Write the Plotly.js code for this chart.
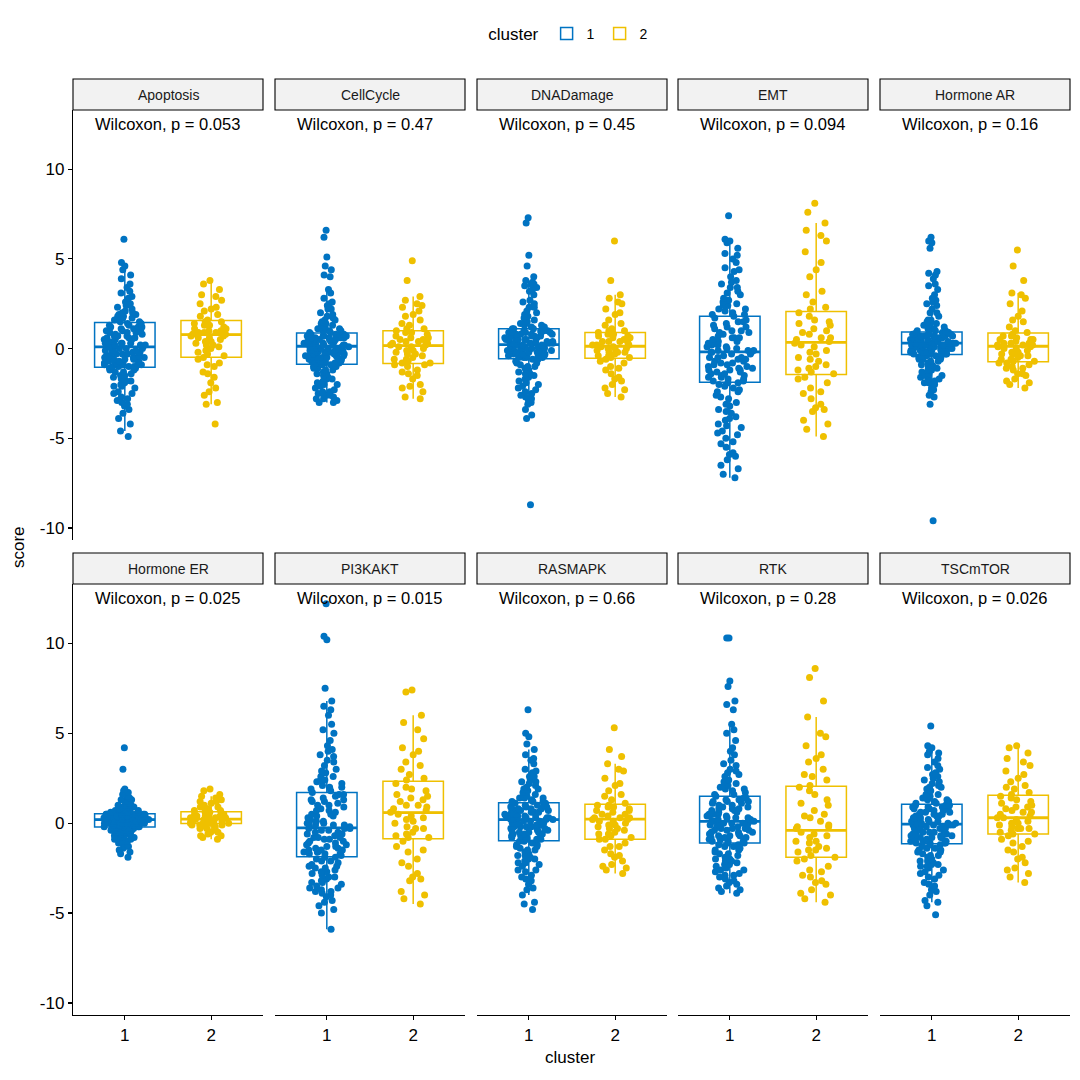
<!DOCTYPE html>
<html><head><meta charset="utf-8">
<script src="https://cdn.plot.ly/plotly-3.0.1.min.js"></script>
<style>html,body{margin:0;padding:0;background:#fff}#chart{width:1080px;height:1080px}</style>
</head><body><div id="chart"></div>
<script>
// ---------------- data ----------------
const pathways = ['Apoptosis','CellCycle','DNADamage','EMT','Hormone AR','Hormone ER','PI3KAKT','RASMAPK','RTK','TSCmTOR'];
const pLabels = ['Wilcoxon, p = 0.053','Wilcoxon, p = 0.47','Wilcoxon, p = 0.45','Wilcoxon, p = 0.094','Wilcoxon, p = 0.16',
                 'Wilcoxon, p = 0.025','Wilcoxon, p = 0.015','Wilcoxon, p = 0.66','Wilcoxon, p = 0.28','Wilcoxon, p = 0.026'];
const clusters = ['1','2'];
const yTicks = [-10,-5,0,5,10];

// box statistics (cluster 1 / cluster 2)
const c1Q1  = [-1.04,-0.87,-0.56,-1.87,-0.33,-0.22,-1.87,-0.98,-1.1,-1.15];
const c1Med = [0.1,0.13,0.22,-0.18,0.31,0.2,-0.26,0.2,0.1,-0.05];
const c1Q3  = [1.46,0.87,1.1,1.8,0.93,0.52,1.7,1.13,1.5,1.05];
const c1Lo  = [-4.6,-3.0,-3.0,-7.2,-2.2,-1.3,-5.9,-4.0,-3.9,-4.4];
const c1Hi  = [4.7,3.3,3.6,6.0,2.8,1.6,6.8,4.1,5.5,4.3];
const c2Q1  = [-0.48,-0.83,-0.54,-1.44,-0.74,-0.02,-0.87,-0.9,-1.9,-0.6];
const c2Med = [0.78,0.17,0.13,0.35,0.13,0.22,0.59,0.22,-0.4,0.3];
const c2Q3  = [1.57,1.0,0.9,2.07,0.87,0.63,2.33,1.05,2.05,1.55];
const c2Lo  = [-3.1,-2.8,-2.7,-4.9,-2.2,-0.9,-4.5,-2.8,-4.4,-3.3];
const c2Hi  = [3.8,2.9,3.0,7.0,3.1,1.5,6.0,3.3,5.9,4.3];

// sample scores (estimated from the jittered points)
const apoptosis1 = [6.1,4.8,4.6,4.4,4.1,3.9,3.6,3.4,3.1,2.9,2.8,2.6,2.5,2.3,2.2,2.1,2.0,1.9,1.8,1.8,1.7,1.6,1.6,1.5,1.5,
 1.4,1.4,1.3,1.2,1.2,1.1,1.0,1.0,0.9,0.9,0.8,0.7,0.7,0.6,0.6,0.5,0.5,0.4,0.4,0.3,0.3,0.2,0.2,0.1,0.1,
 0.0,0.0,-0.1,-0.1,-0.2,-0.2,-0.3,-0.3,-0.4,-0.4,-0.5,-0.5,-0.6,-0.6,-0.7,-0.7,-0.8,-0.8,-0.8,-0.9,-0.9,-0.9,-1.0,-1.0,-1.0,
 -1.1,-1.2,-1.3,-1.4,-1.5,-1.6,-1.7,-1.8,-1.9,-2.0,-2.1,-2.2,-2.4,-2.5,-2.7,-2.8,-3.0,-3.1,-3.2,-3.4,-3.6,-3.9,-4.2,-4.6,-4.9,
 2.4,2.0,1.7,1.3,1.1,0.9,0.8,0.6,0.5,0.4,0.3,0.2,0.1,0.0,-0.1,-0.2,-0.3,-0.4,-0.5,-0.6,-0.7,-0.8,-0.9,-1.0,-1.1,-1.3,-1.5,-1.8,-2.1,-2.5,
 1.0,0.7,0.3,-0.2,-0.6,1.2,1.9,-1.2,-2.9,3.2];
const apoptosis2 = [3.8,3.6,3.3,3.0,2.7,2.5,2.3,2.1,1.9,1.8,1.6,1.5,1.4,1.3,1.2,1.1,1.0,1.0,0.9,0.9,0.8,0.8,
 0.7,0.6,0.5,0.4,0.3,0.2,0.1,0.0,-0.2,-0.3,-0.4,-0.6,-0.8,-1.0,-1.3,-1.6,-1.9,-2.2,-2.6,-3.0,-3.1,-4.2,
 2.9,2.2,1.5,1.3,1.1,0.9,0.7,0.6,0.4,0.2,-0.1,-0.5,-0.9,-1.4,-2.4];
const cellcycle1 = [6.6,6.2,5.1,4.6,4.4,4.1,4.0,3.3,3.1,2.8,2.6,2.4,2.2,2.0,1.8,1.7,1.6,1.5,1.4,1.3,1.2,1.1,1.0,1.0,0.9,
 0.8,0.8,0.8,0.7,0.7,0.7,0.6,0.6,0.6,0.5,0.5,0.5,0.4,0.4,0.4,0.3,0.3,0.3,0.3,0.2,0.2,0.2,0.2,0.1,0.1,
 0.1,0.0,0.0,0.0,-0.1,-0.1,-0.2,-0.2,-0.2,-0.3,-0.3,-0.3,-0.4,-0.4,-0.5,-0.5,-0.5,-0.6,-0.6,-0.7,-0.7,-0.7,-0.8,-0.8,-0.8,
 -0.9,-1.0,-1.0,-1.1,-1.2,-1.3,-1.4,-1.5,-1.6,-1.7,-1.8,-1.9,-2.0,-2.1,-2.2,-2.3,-2.4,-2.5,-2.5,-2.6,-2.7,-2.8,-2.9,-3.0,-3.0,
 2.2,1.9,1.6,1.2,1.0,0.9,0.8,0.7,0.6,0.5,0.4,0.3,0.2,0.1,0.0,-0.1,-0.2,-0.3,-0.4,-0.5,-0.6,-0.7,-0.8,-0.9,-1.0,-1.2,-1.4,-1.7,-2.0,-2.6,
 0.6,0.3,-0.1,-0.5,1.1,-1.1,2.5,-2.8,-2.4,1.4];
const cellcycle2 = [4.9,3.8,2.9,2.7,2.5,2.3,2.1,1.8,1.6,1.3,1.1,1.0,0.9,0.8,0.7,0.6,0.5,0.5,0.4,0.3,0.2,0.2,
 0.1,0.0,-0.1,-0.2,-0.3,-0.4,-0.5,-0.6,-0.7,-0.8,-0.8,-0.9,-1.0,-1.2,-1.3,-1.5,-1.7,-2.0,-2.2,-2.4,-2.7,-2.8,
 2.4,1.9,1.4,1.1,0.9,0.6,0.4,0.3,0.1,-0.1,-0.3,-0.6,-0.9,-1.4,-2.1];
const dnadamage1 = [7.3,7.0,5.2,4.6,4.0,3.8,3.7,3.6,3.5,3.4,3.3,3.0,2.7,2.5,2.3,2.1,1.9,1.8,1.7,1.5,1.4,1.3,1.2,1.2,1.1,
 1.1,1.0,1.0,1.0,0.9,0.9,0.9,0.8,0.8,0.8,0.7,0.7,0.7,0.6,0.6,0.6,0.5,0.5,0.5,0.4,0.4,0.4,0.3,0.3,0.3,
 0.2,0.2,0.2,0.1,0.1,0.1,0.0,0.0,0.0,-0.1,-0.1,-0.1,-0.2,-0.2,-0.2,-0.3,-0.3,-0.3,-0.4,-0.4,-0.4,-0.5,-0.5,-0.5,-0.5,
 -0.6,-0.7,-0.8,-0.9,-1.0,-1.1,-1.3,-1.4,-1.5,-1.7,-1.8,-1.9,-2.0,-2.2,-2.3,-2.5,-2.6,-2.8,-2.9,-3.0,-3.1,-3.4,-3.7,-3.9,-8.7,
 3.2,2.6,2.0,1.6,1.3,1.1,1.0,0.9,0.8,0.7,0.6,0.5,0.4,0.3,0.2,0.1,0.0,-0.1,-0.2,-0.3,-0.4,-0.5,-0.6,-0.8,-1.0,-1.2,-1.6,-2.1,-2.7,
 0.5,0.3,0.0,-0.3,0.9,1.4,2.3,-1.4,-2.4,3.6,0.7];
const dnadamage2 = [6.0,3.8,3.0,2.8,2.5,2.2,1.9,1.6,1.3,1.1,1.0,0.9,0.8,0.7,0.7,0.6,0.5,0.4,0.4,0.3,0.2,0.2,
 0.1,0.1,0.0,0.0,-0.1,-0.2,-0.2,-0.3,-0.4,-0.5,-0.5,-0.6,-0.8,-1.0,-1.2,-1.4,-1.6,-1.8,-2.0,-2.3,-2.5,-2.7,
 2.6,2.0,1.4,1.0,0.8,0.6,0.4,0.2,0.0,-0.2,-0.4,-0.7,-1.1,-1.7,-2.2];
const emt1 = [7.4,6.1,6.0,5.9,5.6,5.3,5.0,4.8,4.5,4.3,4.0,3.8,3.6,3.4,3.2,3.0,2.8,2.7,2.5,2.4,2.2,2.1,2.0,1.9,1.8,
 1.7,1.6,1.5,1.4,1.3,1.2,1.1,1.0,0.9,0.8,0.7,0.6,0.6,0.5,0.4,0.3,0.2,0.2,0.1,0.0,0.0,-0.1,-0.1,-0.2,-0.2,
 -0.2,-0.3,-0.4,-0.5,-0.5,-0.6,-0.7,-0.8,-0.8,-0.9,-1.0,-1.0,-1.1,-1.2,-1.2,-1.3,-1.4,-1.4,-1.5,-1.6,-1.6,-1.7,-1.8,-1.8,-1.9,
 -2.0,-2.2,-2.4,-2.6,-2.8,-3.0,-3.2,-3.4,-3.6,-3.8,-4.0,-4.2,-4.4,-4.6,-4.8,-5.0,-5.3,-5.5,-5.8,-6.0,-6.2,-6.5,-6.7,-7.0,-7.2,
 5.2,4.4,3.7,3.1,2.6,2.2,1.9,1.5,1.2,0.9,0.6,0.3,0.1,-0.1,-0.3,-0.5,-0.7,-0.9,-1.1,-1.3,-1.5,-1.7,-1.9,-2.1,-2.4,-2.7,-3.1,-3.5,-3.9,-4.3,
 -4.7,-5.2,-5.9,0.4,-0.6,1.0,-1.2,2.4,-2.3,3.4];
const emt2 = [8.1,7.6,7.0,6.6,6.0,5.4,4.8,4.0,3.2,2.6,2.2,2.0,1.8,1.6,1.4,1.3,1.1,0.9,0.8,0.6,0.5,0.4,
 0.3,0.1,-0.1,-0.3,-0.5,-0.7,-0.9,-1.0,-1.2,-1.3,-1.4,-1.6,-1.9,-2.2,-2.5,-2.8,-3.1,-3.4,-3.5,-4.0,-4.5,-4.9,
 6.3,4.4,3.0,2.3,1.5,1.0,0.6,0.2,-0.2,-0.6,-1.1,-1.7,-2.4,-3.3,-4.2];
const hormoneAR1 = [6.2,6.0,5.9,5.6,4.3,4.2,4.1,3.9,3.5,3.3,3.0,2.8,2.6,2.4,2.2,2.0,1.8,1.6,1.5,1.4,1.3,1.2,1.1,1.0,1.0,
 0.9,0.9,0.9,0.8,0.8,0.8,0.7,0.7,0.7,0.7,0.6,0.6,0.6,0.6,0.5,0.5,0.5,0.5,0.4,0.4,0.4,0.4,0.3,0.3,0.3,
 0.3,0.2,0.2,0.2,0.2,0.1,0.1,0.1,0.1,0.0,0.0,0.0,-0.1,-0.1,-0.1,-0.1,-0.2,-0.2,-0.2,-0.2,-0.3,-0.3,-0.3,-0.3,-0.3,
 -0.4,-0.4,-0.5,-0.6,-0.6,-0.7,-0.8,-0.9,-1.0,-1.1,-1.2,-1.3,-1.4,-1.5,-1.6,-1.7,-1.8,-1.9,-2.0,-2.2,-2.4,-2.6,-2.7,-3.1,-9.6,
 3.6,2.5,2.0,1.6,1.3,1.1,0.9,0.8,0.7,0.6,0.5,0.4,0.3,0.2,0.1,0.0,-0.1,-0.2,-0.3,-0.4,-0.5,-0.7,-0.9,-1.2,-1.5,-1.9,
 0.5,0.3,0.1,0.8,0.6,0.2,-0.1,1.0,1.4,-0.6,-1.0,-2.3,2.7,-1.7];
const hormoneAR2 = [5.5,4.6,3.8,3.1,3.0,2.5,2.1,1.8,1.5,1.2,0.9,0.8,0.7,0.6,0.5,0.5,0.4,0.3,0.3,0.2,0.2,0.1,
 0.1,0.0,-0.1,-0.2,-0.3,-0.3,-0.4,-0.5,-0.6,-0.7,-0.7,-0.8,-0.9,-1.0,-1.1,-1.2,-1.4,-1.5,-1.7,-1.9,-2.0,-2.2,
 2.8,1.6,1.0,0.7,0.5,0.3,0.2,0.0,-0.2,-0.4,-0.6,-0.8,-1.1,-1.4,-1.8];
const hormoneER1 = [4.2,3.0,1.9,1.7,1.6,1.5,1.4,1.3,1.2,1.1,1.1,1.0,1.0,0.9,0.9,0.8,0.8,0.8,0.7,0.7,0.7,0.6,0.6,0.6,0.5,
 0.5,0.5,0.5,0.5,0.4,0.4,0.4,0.4,0.4,0.4,0.3,0.3,0.3,0.3,0.3,0.3,0.3,0.2,0.2,0.2,0.2,0.2,0.2,0.2,0.2,
 0.2,0.1,0.1,0.1,0.1,0.1,0.1,0.0,0.0,0.0,0.0,0.0,-0.1,-0.1,-0.1,-0.1,-0.1,-0.1,-0.2,-0.2,-0.2,-0.2,-0.2,-0.2,-0.2,
 -0.3,-0.3,-0.3,-0.4,-0.4,-0.4,-0.5,-0.5,-0.5,-0.6,-0.6,-0.7,-0.7,-0.8,-0.8,-0.9,-0.9,-1.0,-1.1,-1.2,-1.3,-1.4,-1.5,-1.6,-1.9,
 1.8,1.3,1.0,0.8,0.7,0.6,0.5,0.5,0.4,0.4,0.3,0.3,0.2,0.2,0.1,0.1,0.0,0.0,-0.1,-0.1,-0.2,-0.3,-0.4,-0.5,-0.6,-0.8,-1.0,-1.3,-1.7,
 0.6,0.4,0.2,0.0,-0.2,0.9,1.2,-0.7,1.5,-1.1,0.3];
const hormoneER2 = [1.9,1.8,1.5,1.3,1.2,1.1,1.0,0.9,0.8,0.7,0.7,0.6,0.6,0.5,0.5,0.4,0.4,0.4,0.3,0.3,0.3,0.2,
 0.2,0.2,0.2,0.1,0.1,0.1,0.1,0.0,0.0,0.0,0.0,-0.1,-0.1,-0.2,-0.2,-0.3,-0.4,-0.5,-0.6,-0.7,-0.8,-0.9,
 1.6,1.2,0.9,0.7,0.5,0.4,0.3,0.2,0.1,0.0,-0.1,-0.3,-0.5,-0.7,1.4];
const pi3kakt1 = [12.2,10.4,10.2,7.5,6.8,6.5,6.0,5.5,5.0,4.6,4.3,4.0,3.7,3.4,3.2,3.0,2.8,2.6,2.4,2.3,2.2,2.1,2.0,1.9,1.8,
 1.7,1.6,1.5,1.4,1.3,1.2,1.1,1.0,0.9,0.8,0.7,0.6,0.5,0.4,0.3,0.2,0.1,0.1,0.0,0.0,-0.1,-0.1,-0.2,-0.2,-0.3,
 -0.3,-0.4,-0.5,-0.5,-0.6,-0.7,-0.8,-0.8,-0.9,-1.0,-1.0,-1.1,-1.2,-1.2,-1.3,-1.4,-1.4,-1.5,-1.5,-1.6,-1.6,-1.7,-1.7,-1.8,-1.9,
 -2.0,-2.1,-2.2,-2.3,-2.4,-2.5,-2.6,-2.7,-2.8,-2.9,-3.0,-3.1,-3.2,-3.3,-3.4,-3.5,-3.6,-3.7,-3.8,-3.9,-4.1,-4.3,-4.6,-5.0,-5.9,
 6.3,5.2,4.1,3.5,2.9,2.4,2.0,1.6,1.3,1.0,0.7,0.4,0.1,-0.1,-0.4,-0.6,-0.9,-1.1,-1.3,-1.5,-1.7,-1.9,-2.1,-2.4,-2.7,-3.0,-3.3,-3.6,-4.0,-4.4,
 -4.8,0.5,-0.3,-0.8,1.2,-1.6,2.6,-2.5,3.8,-3.8];
const pi3kakt2 = [7.4,7.3,6.0,5.2,4.7,4.2,3.8,3.4,3.0,2.7,2.4,2.2,2.0,1.8,1.6,1.5,1.3,1.2,1.0,0.9,0.8,0.7,
 0.5,0.4,0.3,0.1,0.0,-0.2,-0.3,-0.5,-0.6,-0.7,-0.8,-1.0,-1.3,-1.6,-2.0,-2.4,-2.8,-3.0,-3.2,-4.0,-4.2,-4.5,
 5.6,4.0,3.2,2.5,1.9,1.4,1.0,0.6,0.2,-0.3,-0.8,-1.5,-2.2,-3.1,-3.8];
const rasmapk1 = [6.3,5.0,4.8,4.4,4.1,3.8,3.5,3.3,3.0,2.8,2.6,2.4,2.3,2.2,2.0,1.9,1.8,1.7,1.6,1.5,1.4,1.4,1.3,1.2,1.2,
 1.1,1.1,1.0,1.0,0.9,0.9,0.8,0.8,0.8,0.7,0.7,0.6,0.6,0.6,0.5,0.5,0.5,0.4,0.4,0.4,0.3,0.3,0.3,0.2,0.2,
 0.2,0.1,0.1,0.0,0.0,-0.1,-0.1,-0.2,-0.2,-0.3,-0.3,-0.4,-0.4,-0.5,-0.5,-0.6,-0.6,-0.7,-0.7,-0.8,-0.8,-0.9,-0.9,-0.9,-1.0,
 -1.1,-1.2,-1.3,-1.4,-1.5,-1.6,-1.7,-1.8,-1.9,-2.0,-2.1,-2.2,-2.3,-2.4,-2.6,-2.7,-2.9,-3.0,-3.2,-3.4,-3.6,-4.0,-4.4,-4.5,-4.8,
 3.6,2.9,2.3,1.9,1.5,1.2,1.0,0.9,0.7,0.6,0.5,0.4,0.3,0.2,0.1,0.0,-0.1,-0.2,-0.3,-0.4,-0.5,-0.6,-0.8,-1.0,-1.2,-1.5,-1.8,-2.2,-2.6,-3.1,
 -3.7,0.8,0.3,-0.2,-0.7,1.4,-1.3,2.1,-2.0,2.6];
const rasmapk2 = [5.3,4.1,3.7,3.3,2.9,2.5,2.1,1.8,1.6,1.3,1.1,1.0,0.9,0.9,0.8,0.7,0.6,0.5,0.4,0.3,0.3,0.2,
 0.2,0.1,0.0,-0.1,-0.2,-0.3,-0.4,-0.5,-0.6,-0.7,-0.8,-0.9,-1.1,-1.3,-1.5,-1.7,-1.9,-2.1,-2.3,-2.4,-2.6,-2.8,
 3.0,2.2,1.5,1.0,0.7,0.5,0.3,0.1,-0.1,-0.3,-0.6,-0.9,-1.3,-1.8,-2.5];
const rtk1 = [10.3,10.3,7.9,7.6,6.8,6.6,6.3,5.5,5.0,4.6,4.2,3.8,3.5,3.2,3.0,2.8,2.6,2.4,2.2,2.1,2.0,1.9,1.8,1.7,1.6,
 1.5,1.4,1.4,1.3,1.2,1.2,1.1,1.0,1.0,0.9,0.8,0.8,0.7,0.6,0.6,0.5,0.5,0.4,0.4,0.3,0.3,0.2,0.2,0.1,0.1,
 0.1,0.0,0.0,-0.1,-0.1,-0.2,-0.2,-0.3,-0.3,-0.4,-0.4,-0.5,-0.5,-0.6,-0.6,-0.7,-0.7,-0.8,-0.8,-0.9,-0.9,-1.0,-1.0,-1.0,-1.1,
 -1.2,-1.3,-1.4,-1.5,-1.6,-1.7,-1.8,-1.9,-2.0,-2.1,-2.2,-2.3,-2.4,-2.5,-2.6,-2.7,-2.8,-2.9,-3.0,-3.1,-3.3,-3.5,-3.7,-3.8,-3.9,
 5.2,4.0,3.3,2.7,2.3,1.9,1.6,1.3,1.1,0.9,0.7,0.5,0.3,0.1,-0.1,-0.3,-0.5,-0.7,-0.9,-1.1,-1.3,-1.5,-1.7,-2.0,-2.3,-2.6,-2.9,-3.2,-3.6,
 0.4,0.0,-0.4,0.8,-0.8,1.2,-1.2,2.0,-2.1,2.9,-3.4];
const rtk2 = [8.6,8.1,5.9,4.8,4.3,3.8,3.4,3.0,2.7,2.4,2.1,2.0,1.6,1.3,1.0,0.7,0.5,0.3,0.1,-0.1,-0.2,-0.3,
 -0.5,-0.7,-0.8,-1.0,-1.1,-1.3,-1.4,-1.5,-1.6,-1.8,-1.9,-2.1,-2.4,-2.7,-2.9,-3.0,-3.2,-3.4,-3.7,-4.0,-4.2,-4.4,
 6.8,5.0,3.6,2.6,1.8,1.1,0.4,-0.2,-0.6,-1.0,-1.5,-2.0,-2.6,-3.3,-3.9];
const tscmtor1 = [5.4,4.3,4.2,4.0,3.8,3.6,3.4,3.2,3.0,2.8,2.6,2.4,2.3,2.1,2.0,1.9,1.8,1.6,1.5,1.4,1.3,1.2,1.2,1.1,1.1,
 1.0,1.0,0.9,0.9,0.8,0.8,0.7,0.7,0.6,0.6,0.5,0.5,0.4,0.4,0.3,0.3,0.3,0.2,0.2,0.1,0.1,0.0,0.0,0.0,-0.1,
 -0.1,-0.1,-0.2,-0.2,-0.3,-0.3,-0.4,-0.4,-0.5,-0.5,-0.6,-0.6,-0.7,-0.7,-0.8,-0.8,-0.8,-0.9,-0.9,-1.0,-1.0,-1.0,-1.1,-1.1,-1.1,
 -1.2,-1.3,-1.4,-1.5,-1.6,-1.7,-1.8,-1.9,-2.0,-2.1,-2.2,-2.3,-2.4,-2.5,-2.6,-2.8,-2.9,-3.1,-3.3,-3.5,-3.7,-4.0,-4.3,-4.6,-5.1,
 3.9,3.1,2.5,2.0,1.6,1.3,1.0,0.8,0.6,0.4,0.2,0.0,-0.1,-0.3,-0.5,-0.6,-0.8,-1.0,-1.2,-1.4,-1.6,-1.8,-2.1,-2.4,-2.7,-3.0,-3.4,-3.8,-4.4,
 0.5,0.1,-0.2,-0.7,0.9,-1.1,1.4,-1.5,2.2,-2.3,2.7];
const tscmtor2 = [4.3,4.2,3.9,3.6,3.2,2.9,2.5,2.3,2.1,1.9,1.7,1.5,1.4,1.3,1.1,1.0,0.9,0.8,0.7,0.6,0.5,0.4,
 0.3,0.2,0.1,0.0,-0.1,-0.2,-0.3,-0.3,-0.4,-0.5,-0.6,-0.7,-0.9,-1.1,-1.3,-1.6,-1.9,-2.2,-2.5,-2.8,-3.0,-3.3,
 3.4,2.7,2.0,1.6,1.2,0.9,0.6,0.3,0.0,-0.3,-0.6,-1.0,-1.5,-2.0,-2.6];

const scores1 = [apoptosis1,cellcycle1,dnadamage1,emt1,hormoneAR1,hormoneER1,pi3kakt1,rasmapk1,rtk1,tscmtor1];
const scores2 = [apoptosis2,cellcycle2,dnadamage2,emt2,hormoneAR2,hormoneER2,pi3kakt2,rasmapk2,rtk2,tscmtor2];

// ---------------- styling / layout ----------------
const colors = ['#0073C2','#EFC000'];
const FONT = 'Liberation Sans, Arial, Helvetica, sans-serif';
const S = 1080;
const colPx = [[73,263],[275,465],[477,667],[678,868],[880,1070]];
const rowPx = [[110,540],[584,1015]];
const stripPx = [[79,110],[553,584]];
const py = v => 1 - v / S;
const px = v => v / S;

const traces = [];
const layout = {
  width: S, height: S,
  margin: {l:0, r:0, t:0, b:0},
  paper_bgcolor: '#ffffff', plot_bgcolor: 'rgba(0,0,0,0)',
  font: {family: FONT, color: '#000000'},
  boxmode: 'overlay',
  showlegend: true,
  legend: {orientation: 'h', x: 0.5275, xanchor: 'center', y: py(18), yanchor: 'top',
           title: {text: 'cluster', side: 'left', font: {size: 17, family: FONT, color: '#000'}},
           font: {size: 14, family: FONT, color: '#000'}, itemwidth: 30, tracegroupgap: 0},
  shapes: [], annotations: []
};

const stats = [[c1Q1,c1Med,c1Q3,c1Lo,c1Hi],[c2Q1,c2Med,c2Q3,c2Lo,c2Hi]];
const samples = [scores1, scores2];

pathways.forEach((name, p) => {
  const r = Math.floor(p / 5), c = p % 5;
  const sfx = p === 0 ? '' : String(p + 1);
  const xa = 'x' + sfx, ya = 'y' + sfx;

  clusters.forEach((cl, k) => {
    const st = stats[k];
    // box + whiskers
    traces.push({
      type: 'box', xaxis: xa, yaxis: ya, name: cl, legendgroup: 'c' + cl,
      showlegend: p === 0,
      x: [k + 1], q1: [st[0][p]], median: [st[1][p]], q3: [st[2][p]],
      lowerfence: [st[3][p]], upperfence: [st[4][p]],
      width: 0.7, whiskerwidth: 0, boxpoints: false,
      fillcolor: '#ffffff', line: {color: colors[k], width: 1.5},
      hoverinfo: 'skip'
    });
    // thicker median bar (degenerate box at the median)
    traces.push({
      type: 'box', xaxis: xa, yaxis: ya, name: cl, legendgroup: 'c' + cl, showlegend: false,
      x: [k + 1], q1: [st[1][p]], median: [st[1][p]], q3: [st[1][p]],
      lowerfence: [st[1][p]], upperfence: [st[1][p]],
      width: 0.7, whiskerwidth: 0, boxpoints: false,
      fillcolor: 'rgba(0,0,0,0)', line: {color: colors[k], width: 2.8},
      hoverinfo: 'skip'
    });
  });
  clusters.forEach((cl, k) => {
    traces.push({
      type: 'box', xaxis: xa, yaxis: ya, name: cl, legendgroup: 'c' + cl, showlegend: false,
      y: samples[k][p], x0: k + 1,
      width: 0.7, boxpoints: 'all', jitter: 0.8, pointpos: 0,
      fillcolor: 'rgba(0,0,0,0)', line: {color: 'rgba(0,0,0,0)', width: 0},
      marker: {color: colors[k], size: 7, opacity: 1},
      hoverinfo: 'skip'
    });
  });

  layout['xaxis' + sfx] = {
    domain: [px(colPx[c][0]), px(colPx[c][1])], anchor: ya,
    range: [0.4, 2.6], showgrid: false, zeroline: false, fixedrange: true,
    tickvals: [1, 2], ticktext: clusters,
    showline: r === 1, linecolor: '#000', linewidth: 1.2,
    ticks: r === 1 ? 'outside' : '', ticklen: 4, tickwidth: 1.2, tickcolor: '#000',
    showticklabels: r === 1, tickfont: {size: 17, family: FONT, color: '#000'}
  };
  layout['yaxis' + sfx] = {
    domain: [py(rowPx[r][1]), py(rowPx[r][0])], anchor: xa,
    range: [-10.67, 13.3], showgrid: false, zeroline: false, fixedrange: true,
    tickvals: yTicks, ticktext: yTicks.map(String),
    showline: c === 0, linecolor: '#000', linewidth: 1.2,
    ticks: c === 0 ? 'outside' : '', ticklen: 4, tickwidth: 1.2, tickcolor: '#000',
    showticklabels: c === 0, tickfont: {size: 17, family: FONT, color: '#000'}
  };

  // strip
  layout.shapes.push({type: 'rect', xref: 'paper', yref: 'paper',
    x0: px(colPx[c][0]), x1: px(colPx[c][1]), y0: py(stripPx[r][1]), y1: py(stripPx[r][0]),
    fillcolor: '#F2F2F2', line: {color: '#000', width: 1.1}, layer: 'above'});
  layout.annotations.push({xref: 'paper', yref: 'paper', showarrow: false,
    x: px((colPx[c][0] + colPx[c][1]) / 2), y: py((stripPx[r][0] + stripPx[r][1]) / 2),
    xanchor: 'center', yanchor: 'middle', text: name,
    font: {size: 14, family: FONT, color: '#1a1a1a'}});
  // p-value label
  layout.annotations.push({xref: 'paper', yref: 'paper', showarrow: false,
    x: px(colPx[c][0] + 20), y: py(stripPx[r][1] + 14),
    xanchor: 'left', yanchor: 'middle', text: pLabels[p],
    font: {size: 16.5, family: FONT, color: '#000'}});
});

// axis titles
layout.annotations.push({xref: 'paper', yref: 'paper', showarrow: false, x: px(570), y: py(1057),
  xanchor: 'center', yanchor: 'middle', text: 'cluster', font: {size: 17, family: FONT, color: '#000'}});
layout.annotations.push({xref: 'paper', yref: 'paper', showarrow: false, x: px(18), y: py(547),
  xanchor: 'center', yanchor: 'middle', text: 'score', textangle: -90, font: {size: 17, family: FONT, color: '#000'}});

Plotly.newPlot('chart', traces, layout, {displayModeBar: false, staticPlot: true});
</script>
</body></html>
